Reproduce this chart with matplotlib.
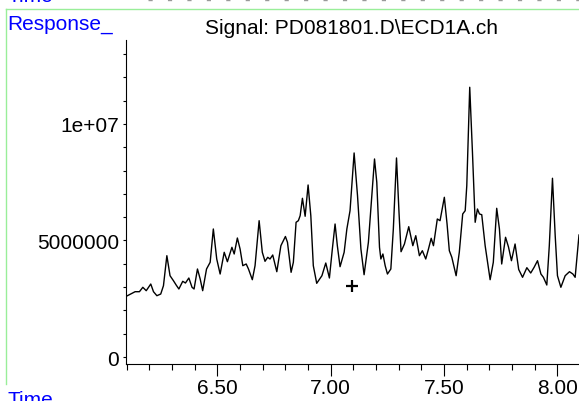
import matplotlib
matplotlib.use('Agg')
import matplotlib.pyplot as plt
from matplotlib.lines import Line2D
from matplotlib.ticker import MultipleLocator

plt.rcParams['font.family'] = ['Liberation Sans', 'DejaVu Sans']

# Chromatogram trace (time in min, response in counts)
time_min = [
    6.103, 6.137, 6.156, 6.171, 6.186, 6.206, 6.218, 6.233, 6.250, 6.262,
    6.277, 6.291, 6.306, 6.318, 6.330, 6.347, 6.359, 6.374, 6.388, 6.397,
    6.412, 6.424, 6.435, 6.452, 6.468, 6.482, 6.497, 6.512, 6.530, 6.544,
    6.564, 6.574, 6.588, 6.600, 6.612, 6.627, 6.637, 6.654, 6.666, 6.684,
    6.698, 6.710, 6.722, 6.732, 6.744, 6.762, 6.780, 6.800, 6.809, 6.825,
    6.835, 6.847, 6.857, 6.865, 6.875, 6.887, 6.900, 6.912, 6.923, 6.938,
    6.961, 6.978, 6.994, 7.007, 7.019, 7.029, 7.041, 7.059, 7.071, 7.085,
    7.103, 7.118, 7.133, 7.147, 7.166, 7.181, 7.193, 7.203, 7.215, 7.221,
    7.230, 7.240, 7.250, 7.265, 7.276, 7.290, 7.301, 7.310, 7.325, 7.344,
    7.362, 7.375, 7.391, 7.404, 7.419, 7.431, 7.443, 7.453, 7.470, 7.482,
    7.501, 7.513, 7.523, 7.534, 7.553, 7.567, 7.582, 7.593, 7.600, 7.613,
    7.625, 7.637, 7.647, 7.656, 7.666, 7.681, 7.703, 7.717, 7.732, 7.744,
    7.754, 7.771, 7.784, 7.797, 7.813, 7.829, 7.846, 7.865, 7.882, 7.897,
    7.912, 7.927, 7.938, 7.953, 7.964, 7.978, 7.990, 8.000, 8.015, 8.034,
    8.053, 8.068, 8.078, 8.095,
]
response_m = [
    2.631, 2.803, 2.803, 2.992, 2.846, 3.133, 2.803, 2.631, 2.704, 3.060,
    4.348, 3.489, 3.275, 3.090, 2.919, 3.249, 3.176, 3.391, 2.992, 2.919,
    3.777, 3.348, 2.846, 3.777, 4.065, 5.494, 4.206, 3.562, 4.494, 4.090,
    4.708, 4.421, 5.107, 4.635, 3.919, 3.992, 3.777, 3.318, 3.919, 5.850,
    4.494, 4.107, 4.279, 4.206, 4.378, 3.661, 4.777, 5.172, 4.923, 3.635,
    4.065, 5.781, 5.850, 6.065, 6.811, 6.039, 7.382, 6.065, 3.919, 3.163,
    3.489, 4.034, 3.391, 4.635, 5.708, 4.777, 3.876, 4.494, 5.494, 6.279,
    8.756, 6.923, 4.635, 3.532, 4.923, 6.923, 8.498, 7.498, 4.708, 4.206,
    4.421, 3.919, 3.562, 3.777, 5.494, 8.541, 6.210, 4.519, 4.850, 5.593,
    4.777, 5.206, 4.348, 4.562, 4.206, 4.635, 5.095, 4.777, 5.923, 5.850,
    6.854, 5.708, 4.562, 4.279, 3.489, 4.494, 6.138, 6.279, 7.352, 11.575,
    8.786, 5.781, 6.352, 6.138, 6.107, 4.777, 3.318, 4.065, 6.382, 5.494,
    3.992, 5.138, 4.721, 4.133, 4.850, 3.756, 3.421, 3.833, 3.605, 3.850,
    4.133, 3.562, 3.421, 3.090, 4.777, 7.670, 5.206, 3.489, 2.992, 3.489,
    3.661, 3.562, 3.421, 5.236,
]
response = [v * 1e6 for v in response_m]

# cursor mark
mark_time = [7.093]
mark_resp = [3.06e6]

xtick_values = [6.5, 7.0, 7.5, 8.0]
xtick_labels = ['6.50', '7.00', '7.50', '8.00']
ytick_values = [0, 5e6, 1e7]
ytick_labels = ['0', '5000000', '1e+07']

fig = plt.figure(figsize=(5.79, 4.02), dpi=100)
ax = fig.add_axes([0.2181, 0.0920, 0.7819, 0.807])

ax.plot(time_min, response, color='black', linewidth=1.0)
ax.plot(mark_time, mark_resp, marker='+', markersize=8, markeredgewidth=1.6,
        color='black', linestyle='none')

ax.set_xlim(6.098, 8.095)
ax.set_ylim(-0.30e6, 13.62e6)

for side in ('top', 'right'):
    ax.spines[side].set_visible(False)
for side in ('left', 'bottom'):
    ax.spines[side].set_linewidth(0.8)

ax.set_xticks(xtick_values)
ax.set_xticklabels(xtick_labels)
ax.xaxis.set_minor_locator(MultipleLocator(0.1))
ax.set_yticks(ytick_values)
ax.set_yticklabels(ytick_labels)
ax.yaxis.set_minor_locator(MultipleLocator(1e6))

ax.tick_params(axis='x', which='major', direction='out', length=8.6, width=0.8,
               pad=1.5, labelsize=15)
ax.tick_params(axis='x', which='minor', direction='out', length=4.3, width=0.8)
ax.tick_params(axis='y', which='both', direction='out', length=2.2, width=0.8,
               pad=3.0, labelsize=15)

# header / frame decorations (partly cut off at the edges, as in the source)
fig.text(351.5 / 579, 1 - 33.5 / 402, 'Signal: PD081801.D\\ECD1A.ch',
         ha='center', va='baseline', fontsize=15, color='black')
fig.text(7 / 579, 1 - 30 / 402, 'Response_', ha='left', va='baseline',
         fontsize=15, color='#0000ff')
fig.text(7 / 579, 1 - 406 / 402, 'Time', ha='left', va='baseline',
         fontsize=15, color='#0000ff')
fig.text(7 / 579, 1 - 2.5 / 402, 'Time', ha='left', va='baseline',
         fontsize=15, color='#0000ff')

green = '#99ee99'
fig.add_artist(Line2D([6 / 579, 1.0], [1 - 10.3 / 402] * 2, color=green,
                      linewidth=1.0, transform=fig.transFigure))
fig.add_artist(Line2D([6 / 579] * 2, [1 - 10.3 / 402, 1 - 385 / 402],
                      color=green, linewidth=1.0, transform=fig.transFigure))
fig.add_artist(Line2D([148 / 579, 1.0], [1 - 1 / 402] * 2, color='#999999',
                      linewidth=1.0, dashes=(3, 11), transform=fig.transFigure))

fig.savefig('out.png', dpi=100)
